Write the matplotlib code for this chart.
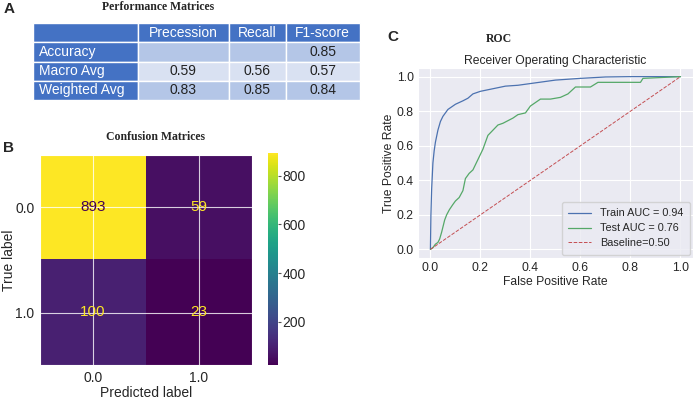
import matplotlib
matplotlib.use("Agg")
import matplotlib.pyplot as plt
import seaborn as sns
import numpy as np

# table data
table_cols = ["", "Precession", "Recall", "F1-score"]
table_rows = ["Accuracy", "Macro Avg", "Weighted Avg"]
precision = ["", "0.59", "0.83"]
recall = ["", "0.56", "0.85"]
f1 = ["0.85", "0.57", "0.84"]

# confusion matrix
cm_labels = ["0.0", "1.0"]
cm_values = np.array([[893, 59], [100, 23]])

# roc curves
train_fpr = [0.0, 0.002, 0.005, 0.01, 0.015, 0.02, 0.03, 0.04, 0.05, 0.07, 0.1,
             0.13, 0.15, 0.17, 0.2, 0.25, 0.3, 0.35, 0.4, 0.45, 0.5, 0.6, 0.7,
             0.8, 1.0]
train_tpr = [0.0, 0.2, 0.35, 0.5, 0.57, 0.62, 0.69, 0.74, 0.77, 0.81, 0.84,
             0.86, 0.875, 0.9, 0.915, 0.93, 0.945, 0.95, 0.96, 0.97, 0.98, 0.99,
             0.998, 1.0, 1.0]
test_fpr = [0.0, 0.01, 0.02, 0.03, 0.037, 0.045, 0.057, 0.065, 0.076, 0.09, 0.10,
            0.115, 0.13, 0.14, 0.155, 0.17, 0.18, 0.19, 0.2, 0.21, 0.22, 0.23,
            0.25, 0.27, 0.29, 0.31, 0.33, 0.35, 0.38, 0.40, 0.42, 0.44, 0.48,
            0.52, 0.55, 0.58, 0.64, 0.67, 0.75, 0.84, 0.85, 0.94, 1.0]
test_tpr = [0.0, 0.01, 0.03, 0.04, 0.06, 0.1, 0.17, 0.2, 0.23, 0.26, 0.28,
            0.30, 0.34, 0.41, 0.44, 0.46, 0.49, 0.52, 0.55, 0.58, 0.62, 0.66,
            0.69, 0.72, 0.73, 0.745, 0.76, 0.78, 0.79, 0.83, 0.85, 0.87, 0.87,
            0.88, 0.9, 0.94, 0.94, 0.967, 0.967, 0.967, 0.99, 0.996, 1.0]
legend_labels = ["Train AUC = 0.94", "Test AUC = 0.76", "Baseline=0.50"]

sns.set_style("darkgrid")
plt.rcParams["font.family"] = ["Liberation Sans", "DejaVu Sans"]

fig = plt.figure(figsize=(7, 4), dpi=100)
serif = ["Liberation Serif", "DejaVu Serif"]

# ---- A: table ----
fig.text(0.005, 0.978, "A", fontsize=11, fontweight="bold", va="center")
fig.text(0.226, 0.982, "Performance Matrices", family=serif, fontweight="bold",
         fontsize=8.5, ha="center", va="center")
ax_t = fig.add_axes([0.047, 0.75, 0.467, 0.1925])
ax_t.axis("off")
cells = [[r, p, rc, f] for r, p, rc, f in zip(table_rows, precision, recall, f1)]
blue = "#4472C4"
mid = "#B4C6E7"
light = "#D9E1F2"
row_fill = [mid, light, mid]
colours = [[blue] + [c] * 3 for c in row_fill]
tbl = ax_t.table(cellText=cells, colLabels=table_cols, cellColours=colours,
                 colColours=[blue] * 4, bbox=[0, 0, 1, 1],
                 colWidths=[105, 91, 57, 74])
tbl.auto_set_font_size(False)
for (r, c), cell in tbl.get_celld().items():
    cell.set_edgecolor("white")
    cell.set_linewidth(1.0)
    txt = cell.get_text()
    txt.set_fontsize(10)
    if r == 0 or c == 0:
        txt.set_color("white")
    else:
        txt.set_color("#222222")
    if c == 0:
        cell.set_text_props(ha="left")
        cell.PAD = 0.055
    else:
        txt.set_ha("center")

# ---- B: confusion matrix ----
fig.text(0.005, 0.63, "B", fontsize=11, fontweight="bold", va="center")
fig.text(0.222, 0.657, "Confusion Matrices", family=serif, fontweight="bold",
         fontsize=8.5, ha="center", va="center")
ax_c = fig.add_axes([0.057, 0.0875, 0.303, 0.525])
im = ax_c.imshow(cm_values, cmap="viridis", aspect="auto")
cmap = plt.get_cmap("viridis")
thresh = (cm_values.max() + cm_values.min()) / 2
for i in range(2):
    for j in range(2):
        col = cmap(0) if cm_values[i, j] > thresh else cmap(1.0)
        ax_c.text(j, i, str(cm_values[i, j]), ha="center", va="center",
                  color=col, fontsize=11)
ax_c.set_xticks(range(2))
ax_c.set_yticks(range(2))
ax_c.set_xticklabels(cm_labels)
ax_c.set_yticklabels(cm_labels)
ax_c.tick_params(labelsize=10, length=0, pad=4)
ax_c.set_xlabel("Predicted label", fontsize=10, labelpad=1)
ax_c.set_ylabel("True label", fontsize=10, va="center")
ax_c.yaxis.set_label_coords(-0.145, 0.5)
ax_c.grid(True, color="white", linewidth=0.8, alpha=0.8)
ax_cb = fig.add_axes([0.383, 0.0875, 0.0143, 0.53])
cb = fig.colorbar(im, cax=ax_cb, ticks=[200, 400, 600, 800])
cb.outline.set_visible(False)
ax_cb.tick_params(labelsize=10, length=2, pad=1, color="#555555")
ax_cb.grid(False)

# ---- C: ROC ----
fig.text(0.553, 0.907, "C", fontsize=11, fontweight="bold", va="center")
fig.text(0.713, 0.902, "ROC", family=serif, fontweight="bold",
         fontsize=8.5, ha="center", va="center")
ax_r = fig.add_axes([0.597, 0.355, 0.393, 0.475])
ax_r.plot(train_fpr, train_tpr, color="#4C72B0", linewidth=0.9, label=legend_labels[0])
ax_r.plot(test_fpr, test_tpr, color="#55A868", linewidth=0.9, label=legend_labels[1])
ax_r.plot([0, 1], [0, 1], color="#C44E52", linestyle="--", linewidth=0.7,
          label=legend_labels[2])
ax_r.set_title("Receiver Operating Characteristic", fontsize=8.7, pad=3)
ax_r.set_xlabel("False Positive Rate", fontsize=8.7, labelpad=1)
ax_r.set_ylabel("True Positive Rate", fontsize=8.7, labelpad=1)
ax_r.tick_params(labelsize=8.7, length=0, pad=3)
ax_r.legend(loc="lower right", fontsize=7.8, frameon=True, handlelength=2.1,
            labelspacing=0.45, borderpad=0.6, borderaxespad=0.3)

fig.savefig("out.png", dpi=100)
